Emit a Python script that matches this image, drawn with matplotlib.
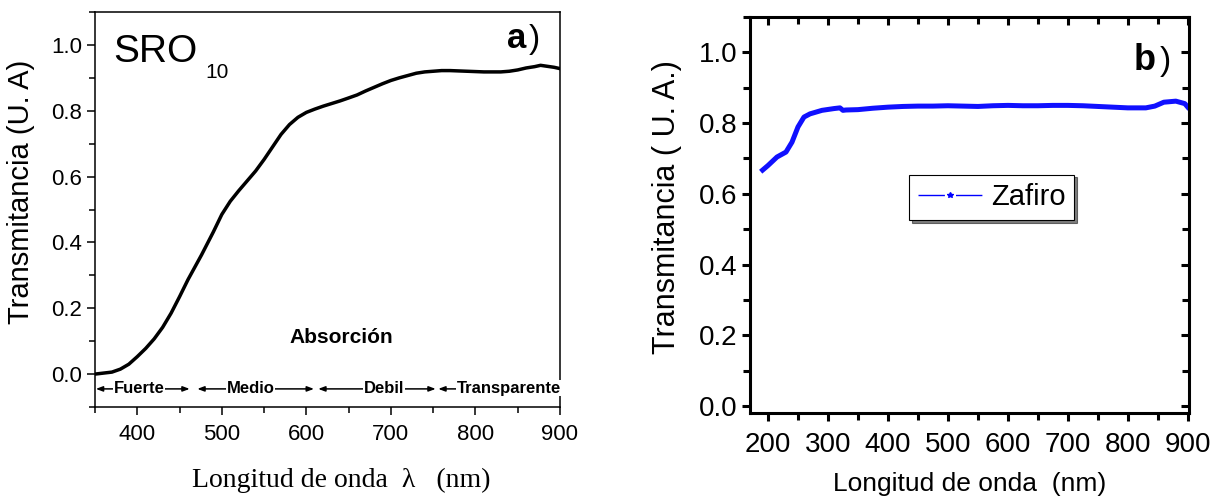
import matplotlib
matplotlib.use('Agg')
import matplotlib.pyplot as plt
from matplotlib.ticker import MultipleLocator
from matplotlib.lines import Line2D

plt.rcParams['font.family'] = ['Liberation Sans', 'DejaVu Sans']

# panel a: SRO10 transmittance
wl_a = [350, 370, 380, 390, 400, 410, 420, 430, 440, 450, 460, 476, 490, 500, 510,
        520, 530, 540, 550, 560, 570, 580, 590, 600, 610, 620, 630, 640, 649, 660,
        670, 680, 690, 700, 710, 720, 730, 740, 750, 760, 770, 780, 790, 800, 810,
        820, 830, 840, 850, 860, 870, 877, 885, 893, 900]
tr_a = [0.0, 0.006, 0.015, 0.03, 0.053, 0.078, 0.107, 0.142, 0.185, 0.235, 0.287, 0.362,
        0.432, 0.485, 0.525, 0.557, 0.587, 0.617, 0.652, 0.69, 0.728, 0.758, 0.78, 0.795,
        0.805, 0.814, 0.822, 0.83, 0.838, 0.848, 0.86, 0.871, 0.882, 0.892, 0.9, 0.907,
        0.914, 0.918, 0.92, 0.922, 0.922, 0.921, 0.92, 0.919, 0.918, 0.918, 0.918, 0.92,
        0.924, 0.93, 0.934, 0.938, 0.935, 0.932, 0.928]

# absorption regions
regions = ['Fuerte', 'Medio', 'Debil', 'Transparente']
region_lo = [351, 471, 614, 756]
region_hi = [462, 609, 753, 898]
region_lbl = [402, 534, 692, 840]

# panel b: sapphire
wl_b = [191, 200, 215, 230, 240, 250, 260, 270, 290, 310, 320, 325, 330, 350, 375,
        400, 425, 450, 475, 500, 525, 550, 575, 600, 625, 650, 675, 700, 725, 750,
        775, 800, 830, 845, 860, 880, 895, 900]
tr_b = [0.667, 0.68, 0.704, 0.718, 0.746, 0.789, 0.817, 0.826, 0.836, 0.841, 0.843, 0.836,
        0.837, 0.838, 0.842, 0.845, 0.847, 0.848, 0.848, 0.849, 0.848, 0.847, 0.849, 0.85,
        0.849, 0.849, 0.85, 0.85, 0.849, 0.847, 0.845, 0.843, 0.843, 0.848, 0.859, 0.862,
        0.855, 0.845]

fig = plt.figure(figsize=(12.2, 4.99), dpi=100)

# ---- panel a ----
ax = fig.add_axes([95/1220, 1-407/499, 465/1220, 395/499])
ax.plot(wl_a, tr_a, color='black', lw=2.5)
ax.set_xlim(350, 900)
ax.set_ylim(-0.1, 1.1)
ax.set_xticks([400, 500, 600, 700, 800, 900])
ax.set_yticks([0.0, 0.2, 0.4, 0.6, 0.8, 1.0])
ax.xaxis.set_minor_locator(MultipleLocator(50))
ax.yaxis.set_minor_locator(MultipleLocator(0.1))
ax.tick_params(which='both', direction='out', top=False, right=False, width=1.1, labelsize=16)
ax.tick_params(which='major', length=6)
ax.tick_params(which='minor', length=4)
ax.tick_params(axis='x', pad=6)
for s in ax.spines.values():
    s.set_linewidth(1.1)
ax.set_ylabel('Transmitancia (U. A)', fontsize=21)
ax.yaxis.set_label_coords(-0.128, 0.545)
ax.set_xlabel('Longitud de onda  λ   (nm)', fontsize=20, family='Liberation Serif')
ax.xaxis.set_label_coords(0.53, -0.155)

ax.text(0.039, 0.873, 'SRO', transform=ax.transAxes, fontsize=28)
ax.text(0.237, 0.833, '10', transform=ax.transAxes, fontsize=15)
ax.text(0.886, 0.909, 'a', transform=ax.transAxes, fontsize=25, fontweight='bold')
ax.text(0.932, 0.909, ')', transform=ax.transAxes, fontsize=24)
ax.text(641, 0.095, 'Absorción', fontsize=15, fontweight='bold', ha='center')

for name, lo, hi, lx in zip(regions, region_lo, region_hi, region_lbl):
    ax.annotate('', xy=(hi, -0.045), xytext=(lo, -0.045),
                arrowprops=dict(arrowstyle='<|-|>,head_length=0.4,head_width=0.15',
                                color='black', lw=1.1, shrinkA=0, shrinkB=0))
    ax.text(lx, -0.043, name, fontsize=12, fontweight='bold', ha='center', va='center',
            bbox=dict(facecolor='white', edgecolor='none', pad=0.5))

# ---- panel b ----
bx = fig.add_axes([750/1220, 1-413/499, 439/1220, 396/499])
bx.plot(wl_b, tr_b, color='#1010ff', lw=3.6)
bx.set_xlim(170, 902)
bx.set_ylim(-0.02, 1.1)
bx.set_xticks([200, 300, 400, 500, 600, 700, 800, 900])
bx.set_yticks([0.0, 0.2, 0.4, 0.6, 0.8, 1.0])
bx.xaxis.set_minor_locator(MultipleLocator(50))
bx.yaxis.set_minor_locator(MultipleLocator(0.1))
bx.tick_params(which='both', direction='out', width=2.2, labelsize=20)
bx.tick_params(which='both', top=True, right=True)
bx.tick_params(which='major', length=6)
bx.tick_params(which='minor', length=5)
bx.tick_params(axis='x', pad=8)
bx.tick_params(axis='y', pad=3)
# top / right ticks point inward
for t in bx.xaxis.get_major_ticks() + bx.xaxis.get_minor_ticks():
    t.tick2line.set_marker(3)
for t in bx.yaxis.get_major_ticks() + bx.yaxis.get_minor_ticks():
    t.tick2line.set_marker(0)
for s in bx.spines.values():
    s.set_linewidth(2.2)
bx.set_ylabel('Transmitancia ( U. A.)', fontsize=22)
bx.yaxis.set_label_coords(-0.155, 0.52)
bx.set_xlabel('Longitud de onda  (nm)', fontsize=19)
bx.xaxis.set_label_coords(0.5, -0.15)

bx.text(0.875, 0.866, 'b', transform=bx.transAxes, fontsize=26, fontweight='bold')
bx.text(0.934, 0.866, ')', transform=bx.transAxes, fontsize=24)

h = Line2D([], [], color='blue', lw=1, marker='*', ms=4, linestyle=(0, (19, 8)))
leg = bx.legend([h], ['Zafiro'], loc='center', bbox_to_anchor=(573, 0.59),
                bbox_transform=bx.transData, fontsize=21, frameon=True, fancybox=False,
                shadow={'color': 'black'}, handlelength=2.2, borderpad=0.3,
                handletextpad=0.3, numpoints=1)
leg.get_frame().set_edgecolor('black')
leg.get_frame().set_linewidth(0.8)

fig.savefig('out.png', dpi=100)
